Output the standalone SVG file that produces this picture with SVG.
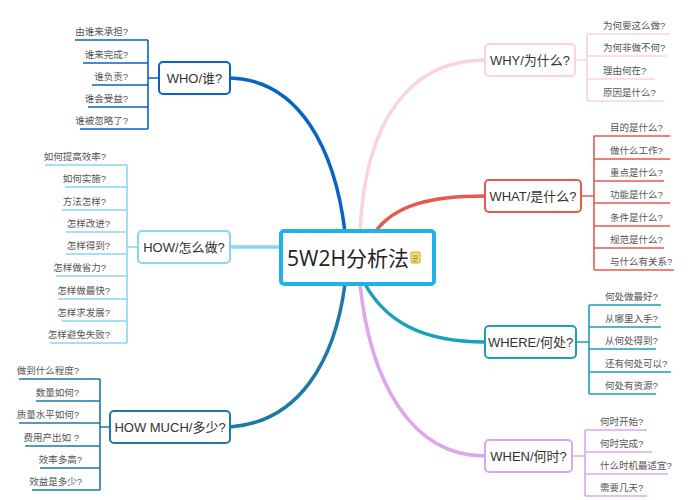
<svg xmlns="http://www.w3.org/2000/svg" width="691" height="500" viewBox="0 0 691 500">
<style>
.lf{font-family:"Liberation Sans","Noto Sans CJK SC",sans-serif;font-size:9.5px;fill:#555}
.bx{font-family:"Liberation Sans","Noto Sans CJK SC",sans-serif;font-size:13px;fill:#333;text-anchor:middle}
.br{fill:none;stroke-width:1.6}
.box{fill:#fff;stroke-width:2}
.cn{fill:none;stroke-width:3.5;stroke-linecap:round}
</style>
<rect width="691" height="500" fill="#fff"/>
<g id="connectors">
<path class="cn" stroke="#0b63c5" d="M230,78 C300,80 335,150 345,232"/>
<path class="cn" stroke="#8ad6f2" d="M230,247 L282,247"/>
<path class="cn" stroke="#1b7aa6" d="M230,427 C300,422 335,360 345,284"/>
<path class="cn" stroke="#fbd3da" stroke-width="2" d="M485,60 C410,60 365,120 360,232"/>
<path class="cn" stroke="#e55a4e" d="M485,196 C430,196 395,205 375,232"/>
<path class="cn" stroke="#1aa0bc" d="M485,342 C420,342 385,320 365,284"/>
<path class="cn" stroke="#dda6ef" stroke-width="2.5" d="M485,456 C410,456 370,380 360,284"/>
</g>
<g id="center">
<rect x="281" y="231" width="153" height="53" rx="3" fill="#fff" stroke="#1db3ea" stroke-width="4"/>
<text x="348" y="266" font-family="'Open Sans','Noto Sans CJK SC',sans-serif" font-size="21" fill="#222" text-anchor="middle">5W2H分析法</text>
<rect x="411" y="252" width="9" height="11" rx="1" fill="#f7dd7a" stroke="#b89a2a" stroke-width="0.8"/>
<path d="M413,256h5M413,258.5h5M413,261h4" stroke="#8a6d10" stroke-width="0.8"/>
</g>
<g id="who">
<rect class="box" x="159" y="62" width="71" height="32" rx="4" stroke="#0b63c5"/>
<text class="bx" x="194.5" y="83">WHO/谁?</text>
<path class="br" stroke="#0b63c5" d="M159,78h-11M148,40v89M75,40h73M83,63h65M92,85h56M88,107h60M80,129h68"/>
<text class="lf" x="128" y="35" text-anchor="end">由谁来承担?</text>
<text class="lf" x="128" y="58" text-anchor="end">谁来完成?</text>
<text class="lf" x="128" y="80" text-anchor="end">谁负责?</text>
<text class="lf" x="128" y="102" text-anchor="end">谁会受益?</text>
<text class="lf" x="128" y="124" text-anchor="end">谁被忽略了?</text>
</g>
<g id="how">
<rect class="box" x="138" y="231" width="92" height="32" rx="4" stroke="#8ad6f2"/>
<text class="bx" x="184" y="252">HOW/怎么做?</text>
<path class="br" stroke="#8ad6f2" d="M138,247h-11M127,165v178M45,165h82M65,187h62M62,210h65M66,232h61M66,254h61M56,276h71M58,299h69M62,321h65M50,343h77"/>
<text class="lf" x="106" y="160" text-anchor="end">如何提高效率?</text>
<text class="lf" x="106" y="182" text-anchor="end">如何实施?</text>
<text class="lf" x="106" y="205" text-anchor="end">方法怎样?</text>
<text class="lf" x="110" y="227" text-anchor="end">怎样改进?</text>
<text class="lf" x="110" y="249" text-anchor="end">怎样得到?</text>
<text class="lf" x="106" y="271" text-anchor="end">怎样做省力?</text>
<text class="lf" x="110" y="294" text-anchor="end">怎样做最快?</text>
<text class="lf" x="110" y="316" text-anchor="end">怎样求发展?</text>
<text class="lf" x="110" y="338" text-anchor="end">怎样避免失败?</text>
</g>
<g id="howmuch">
<rect class="box" x="110" y="411" width="120" height="32" rx="4" stroke="#1b7aa6"/>
<text class="bx" x="170" y="432">HOW MUCH/多少?</text>
<path class="br" stroke="#1b7aa6" d="M110,427h-10M100,379v111M19,379h81M36,401h64M19,423h81M25,446h75M40,468h60M32,490h68"/>
<text class="lf" x="79" y="374" text-anchor="end">做到什么程度?</text>
<text class="lf" x="79" y="396" text-anchor="end">数量如何?</text>
<text class="lf" x="79" y="418" text-anchor="end">质量水平如何?</text>
<text class="lf" x="79" y="441" text-anchor="end">费用产出如 ?</text>
<text class="lf" x="82" y="463" text-anchor="end">效率多高?</text>
<text class="lf" x="82" y="485" text-anchor="end">效益是多少?</text>
</g>
<g id="why">
<rect class="box" x="485" y="44" width="90" height="32" rx="4" stroke="#fbd3da"/>
<text class="bx" x="530" y="65">WHY/为什么?</text>
<path class="br" stroke="#fbd3da" d="M575,60h12M587,34v67M587,34h83M587,56h80M587,79h68M587,101h77"/>
<text class="lf" x="603" y="29">为何要这么做?</text>
<text class="lf" x="603" y="51">为何非做不何?</text>
<text class="lf" x="603" y="74">理由何在?</text>
<text class="lf" x="603" y="96">原因是什么?</text>
</g>
<g id="what">
<rect class="box" x="485" y="180" width="96" height="32" rx="4" stroke="#e55a4e"/>
<text class="bx" x="533" y="201">WHAT/是什么?</text>
<path class="br" stroke="#e55a4e" d="M581,196h13M594,136v134M594,136h76M594,159h76M594,181h70M594,203h76M594,226h76M594,248h70M594,270h80"/>
<text class="lf" x="610" y="131">目的是什么?</text>
<text class="lf" x="610" y="154">做什么工作?</text>
<text class="lf" x="610" y="176">重点是什么?</text>
<text class="lf" x="610" y="198">功能是什么?</text>
<text class="lf" x="610" y="221">条件是什么?</text>
<text class="lf" x="610" y="243">规范是什么?</text>
<text class="lf" x="610" y="265">与什么有关系?</text>
</g>
<g id="where">
<rect class="box" x="485" y="326" width="91" height="32" rx="4" stroke="#1aa0bc"/>
<text class="bx" x="530.5" y="347">WHERE/何处?</text>
<path class="br" stroke="#1aa0bc" d="M576,342h13M589,305v89M589,305h72M589,327h72M589,349h67M589,372h82M589,394h67"/>
<text class="lf" x="605" y="300">何处做最好?</text>
<text class="lf" x="605" y="322">从哪里入手?</text>
<text class="lf" x="605" y="344">从何处得到?</text>
<text class="lf" x="605" y="367">还有何处可以?</text>
<text class="lf" x="605" y="389">何处有资源?</text>
</g>
<g id="when">
<rect class="box" x="485" y="440" width="87" height="32" rx="4" stroke="#dda6ef"/>
<text class="bx" x="528.5" y="461">WHEN/何时?</text>
<path class="br" stroke="#dda6ef" d="M572,456h13M585,430v66M585,430h62M585,452h67M585,474h83M585,496h62"/>
<text class="lf" x="600" y="425">何时开始?</text>
<text class="lf" x="600" y="447">何时完成?</text>
<text class="lf" x="600" y="469">什么时机最适宜?</text>
<text class="lf" x="600" y="491">需要几天?</text>
</g>
</svg>
